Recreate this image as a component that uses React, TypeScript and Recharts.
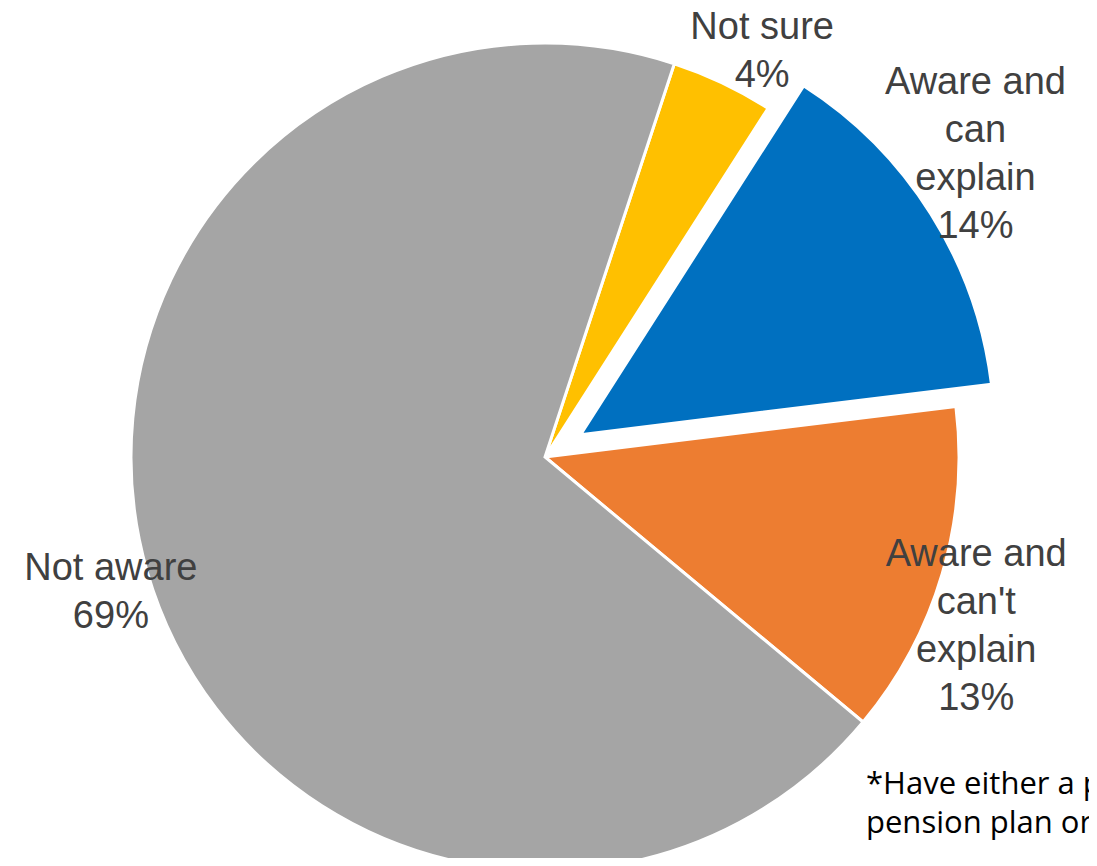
import React from 'react';
import { PieChart, Pie, Cell } from 'recharts';

const categories = ['Not sure', 'Aware and can explain', "Aware and can't explain", 'Not aware'];
const values = [4, 14, 13, 69];
const labelLines = [['Not sure'], ['Aware and', 'can', 'explain'], ['Aware and', "can't", 'explain'], ['Not aware']];
const colors = ['#FFC000', '#0070C0', '#ED7D31', '#A5A5A5'];
const explodedIndex = 1;
const footnoteLines = ['*Have either a personal', 'pension plan or a', 'stakeholder pension'];

const data = categories.map((name, i) => ({ name, value: values[i] }));

const CX = 545;
const CY = 457;
const R = 414;
const START = 71.8;
const END = START - 360;
const EXPLODE = 42;
const LABEL_GAP = 48;
const LINE_H = 48;
const labelNudge = [
  [19, 10],
  [4, -35],
  [-12, 38],
  [10, 7],
];

const total = values.reduce((a, b) => a + b, 0);
const before = values.slice(0, explodedIndex).reduce((a, b) => a + b, 0);
const explodedMid = START - ((before + values[explodedIndex] / 2) / total) * 360;
const RAD = Math.PI / 180;
const CX2 = CX + EXPLODE * Math.cos(explodedMid * RAD);
const CY2 = CY - EXPLODE * Math.sin(explodedMid * RAD);

const makeLabel = (only: (i: number) => boolean) => (props: any) => {
  const { cx, cy, midAngle, outerRadius, index, value } = props;
  if (!only(index)) return null;
  const r = outerRadius + LABEL_GAP;
  const x = cx + r * Math.cos(-midAngle * RAD) + labelNudge[index][0];
  const y = cy + r * Math.sin(-midAngle * RAD) + labelNudge[index][1];
  const lines = [...labelLines[index], `${value}%`];
  const first = y - ((lines.length - 1) * LINE_H) / 2 + 13;
  return (
    <text
      key={`lbl-${index}`}
      x={x}
      y={first}
      textAnchor="middle"
      fill="#404040"
      style={{ fontFamily: '"Liberation Sans", Arial, sans-serif', fontSize: 38 }}
    >
      {lines.map((t, k) => (
        <tspan key={k} x={x} y={first + k * LINE_H}>
          {t}
        </tspan>
      ))}
    </text>
  );
};

export default function App() {
  return (
    <div style={{ margin: -8, width: 1097, height: 866, position: 'relative', overflow: 'hidden', background: '#fff' }}>
      <PieChart width={1097} height={866} margin={{ top: 0, right: 0, bottom: 0, left: 0 }}>
        <Pie
          data={data}
          dataKey="value"
          nameKey="name"
          cx={CX}
          cy={CY}
          outerRadius={R}
          startAngle={START}
          endAngle={END}
          stroke="#ffffff"
          strokeWidth={3}
          isAnimationActive={false}
          labelLine={false}
          label={makeLabel((i) => i !== explodedIndex)}
        >
          {data.map((d, i) => (
            <Cell key={d.name} fill={i === explodedIndex ? 'none' : colors[i]} stroke={i === explodedIndex ? 'none' : '#ffffff'} />
          ))}
        </Pie>
        <Pie
          data={data}
          dataKey="value"
          nameKey="name"
          cx={CX2}
          cy={CY2}
          outerRadius={R}
          startAngle={START}
          endAngle={END}
          stroke="#ffffff"
          strokeWidth={3}
          isAnimationActive={false}
          labelLine={false}
          label={makeLabel((i) => i === explodedIndex)}
        >
          {data.map((d, i) => (
            <Cell key={d.name} fill={i === explodedIndex ? colors[i] : 'none'} stroke={i === explodedIndex ? '#ffffff' : 'none'} />
          ))}
        </Pie>
      </PieChart>
      <div
        style={{
          position: 'absolute',
          left: 866,
          top: 763,
          fontFamily: '"Open Sans", sans-serif',
          fontSize: 31,
          lineHeight: '39px',
          color: '#000',
          whiteSpace: 'nowrap',
        }}
      >
        {footnoteLines.map((t, i) => (
          <div key={t} style={{ marginTop: i === 2 ? 12 : 0 }}>{t}</div>
        ))}
      </div>
    </div>
  );
}
